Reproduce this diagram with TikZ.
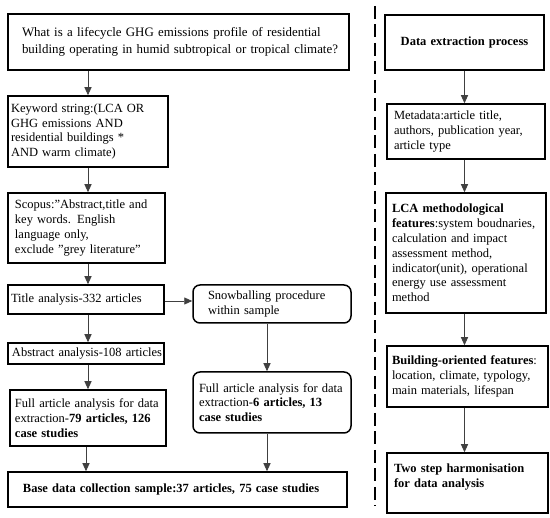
\documentclass[tikz,border=0pt]{standalone}
\usepackage{fontspec}
\setmainfont{Liberation Serif}
\usetikzlibrary{arrows.meta}
\newcommand\oneline[1]{\mbox{#1}}
\begin{document}
\begin{tikzpicture}[x=1pt,y=-1pt,
  box/.style={draw, line width=1.5pt, align=left, inner ysep=0pt,
    font=\fontsize{12.5}{14.8}\selectfont},
  rbox/.style={box, rounded corners=7pt},
  arr/.style={draw=black!75, line width=0.9pt, -{Triangle[length=8pt,width=7pt]}},
  dashline/.style={draw=black, line width=1.8pt, dash pattern=on 13pt off 5.5pt}]
\useasboundingbox (0,0) rectangle (550,518);
\hbadness=10000 \hfuzz=200pt
% left column
\node[box, minimum width=341pt, minimum height=56pt, text width=313pt, inner xsep=14pt,
  font=\fontsize{12.9}{17}\selectfont] (q) at (178.5,42)
  {\oneline{What is a lifecycle GHG emissions profile of residential}\\\oneline{building operating in humid subtropical or tropical climate?}};
\node[box, minimum width=160pt, minimum height=71pt, text width=154pt, inner xsep=3pt] (kw) at (88,131.5)
  {\oneline{Keyword string:(LCA OR}\\\oneline{GHG emissions AND}\\\oneline{residential buildings *}\\\oneline{AND warm climate)}};
\node[box, minimum width=157pt, minimum height=70pt, text width=143pt, inner xsep=7pt] (sc) at (86.5,228)
  {\oneline{Scopus:”Abstract,title and}\\\oneline{key words. English}\\\oneline{language only,}\\\oneline{exclude ”grey literature”}};
\node[box, minimum width=156pt, minimum height=29pt, text width=150pt, inner xsep=3pt] (ti) at (86,299.5)
  {\oneline{Title analysis-332 articles}};
\node[rbox, minimum width=158pt, minimum height=38pt, text width=128pt, inner xsep=15pt] (sn) at (272,304)
  {\oneline{Snowballing procedure}\\\oneline{within sample}};
\node[box, minimum width=156pt, minimum height=21pt, text width=148pt, inner xsep=4pt] (ab) at (86,353.5)
  {\oneline{Abstract analysis-108 articles}};
\node[box, minimum width=156pt, minimum height=56pt, text width=146pt, inner xsep=5pt] (fl) at (88,418)
  {\oneline{Full article analysis for data}\\\oneline{extraction-\textbf{79 articles, 126}}\\\oneline{\textbf{case studies}}};
\node[rbox, minimum width=158pt, minimum height=61pt, text width=146pt, inner xsep=6pt] (fr) at (272,402.5)
  {\oneline{Full article analysis for data}\\\oneline{extraction-\textbf{6 articles, 13}}\\\oneline{\textbf{case studies}}};
\node[box, minimum width=339pt, minimum height=35pt, text width=309pt, inner xsep=15pt] (base) at (177.5,489.5)
  {\oneline{\textbf{Base data collection sample:37 articles, 75 case studies}}};
% right column
\node[box, minimum width=159pt, minimum height=55pt, text width=149pt, inner xsep=5pt, align=center] (de) at (464.5,42.5)
  {\textbf{Data extraction process}};
\node[box, minimum width=158pt, minimum height=55pt, text width=144pt, inner xsep=7pt] (md) at (466,131.5)
  {\oneline{Metadata:article title,}\\\oneline{authors, publication year,}\\\oneline{article type}};
\node[box, minimum width=160pt, minimum height=120pt, text width=148pt, inner xsep=6pt] (lca) at (466,253)
  {\oneline{\textbf{LCA methodological}}\\\oneline{\textbf{features}:system boudnaries,}\\\oneline{calculation and impact}\\\oneline{assessment method,}\\\oneline{indicator(unit), operational}\\\oneline{energy use assessment}\\\oneline{method}};
\node[box, minimum width=161pt, minimum height=61pt, text width=151pt, inner xsep=5pt] (bo) at (467.5,376.5)
  {\oneline{\textbf{Building-oriented features}:}\\\oneline{location, climate, typology,}\\\oneline{main materials, lifespan}};
\node[box, minimum width=161pt, minimum height=60pt, text width=147pt, inner xsep=7pt] (two) at (467.5,483)
  {\oneline{\textbf{Two step harmonisation}}\\\oneline{\textbf{for data analysis}}\\\mbox{}};
% dashed separator
\coordinate (d1) at (375,6);
\coordinate (d2) at (375,506);
\draw[dashline] (d1) -- (d2);
% connectors left
\draw[arr] (kw.north |- q.south) -- (kw.north);
\draw[arr] (kw.south) -- (kw.south |- sc.north);
\draw[arr] ([xshift=1.5pt]sc.south) -- ([xshift=1.5pt]sc.south |- ti.north);
\draw[arr] ([xshift=2pt]ti.south) -- ([xshift=2pt]ti.south |- ab.north);
\draw[arr] ([xshift=2pt]ab.south) -- ([xshift=2pt]ab.south |- fl.north);
\draw[arr] ([xshift=-2pt]fl.south) -- ([xshift=-2pt]fl.south |- base.north);
\draw[arr] ([yshift=-1.5pt]ti.east) -- ([yshift=-1.5pt]ti.east -| sn.west);
\draw[arr] ([xshift=-5pt]sn.south) -- ([xshift=-5pt]sn.south |- fr.north);
\draw[arr] ([xshift=-5pt]fr.south) -- ([xshift=-5pt]fr.south |- base.north);
% connectors right
\draw[arr] (de.south) -- (de.south |- md.north);
\draw[arr] (de.south |- md.south) -- (de.south |- lca.north);
\draw[arr] (de.south |- lca.south) -- (de.south |- bo.north);
\draw[arr] (de.south |- bo.south) -- (de.south |- two.north);
\end{tikzpicture}
\end{document}
